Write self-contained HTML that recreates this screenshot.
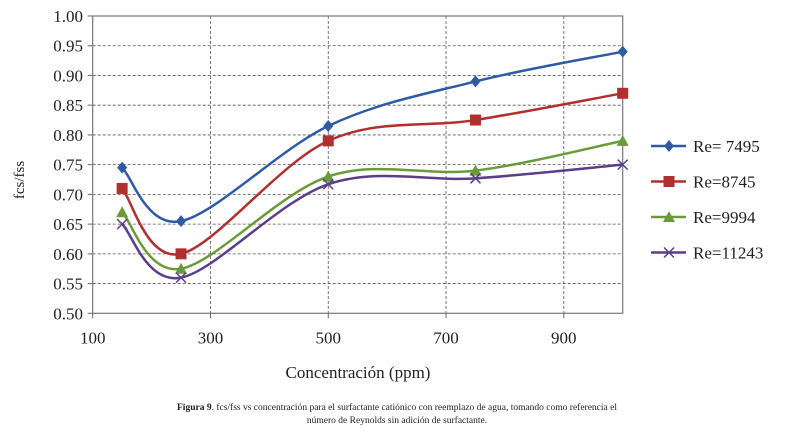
<!DOCTYPE html>
<html><head><meta charset="utf-8"><style>
body{margin:0;background:#fff;width:794px;height:433px;overflow:hidden}
svg text{font-family:"Liberation Serif",serif;fill:#222}
</style></head><body>
<svg width="794" height="433">
<g id="grid"></g>
<g id="axes"></g>
<g id="series"></g>
<g id="legend"></g>
<text x="358" y="378" text-anchor="middle" font-size="17">Concentración  (ppm)</text>
<text transform="translate(24,180) rotate(-90)" text-anchor="middle" font-size="15">fcs/fss</text>
<text x="397" y="410" text-anchor="middle" font-size="9.5"><tspan font-weight="bold">Figura 9</tspan>. fcs/fss vs concentración para el surfactante catiónico con reemplazo de agua, tomando como referencia el</text>
<text x="397" y="423" text-anchor="middle" font-size="9.5">número de Reynolds sin adición de surfactante.</text>
</svg>
<script>
const xValues=[150,250,500,750,1000];
const seriesNames=["Re= 7495","Re=8745","Re=9994","Re=11243"];
const reA=[0.745,0.655,0.815,0.89,0.94];
const reB=[0.71,0.60,0.79,0.825,0.87];
const reC=[0.67,0.575,0.73,0.74,0.79];
const reD=[0.65,0.56,0.717,0.727,0.75];
const xTicks=[100,300,500,700,900];
const yTicks=[0.5,0.55,0.6,0.65,0.7,0.75,0.8,0.85,0.9,0.95,1.0];
const colors=["#2e5aa6","#b22f2f","#6a9a3a","#5b3d8a"];
const markers=["diamond","square","triangle","x"];
const allSeries=[reA,reB,reC,reD];
const L=92.7,R=622.7,T=16,B=313.3;
const xs=v=>L+(v-100)/900*(R-L);
const ys=v=>B-(v-0.5)/0.5*(B-T);
const NS="http://www.w3.org/2000/svg";
function mk(tag,attrs,parent){const e=document.createElementNS(NS,tag);for(const k in attrs)e.setAttribute(k,attrs[k]);parent.appendChild(e);return e;}
const grid=document.getElementById('grid'),axes=document.getElementById('axes'),ser=document.getElementById('series'),leg=document.getElementById('legend');
yTicks.forEach(t=>{
 if(t>0.5&&t<1.0){const l=mk('line',{x1:L,x2:R,y1:ys(t),y2:ys(t),stroke:'#555','stroke-width':0.8,'stroke-dasharray':'3,2'},grid);
 
 }
 const tx=mk('text',{x:83,y:ys(t)+6,'text-anchor':'end','font-size':17},axes);tx.textContent=t.toFixed(2);
 
 
 const tk=mk('line',{x1:L-5,x2:L,y1:ys(t),y2:ys(t),stroke:'#666'},axes);
 
 
});
xTicks.forEach(t=>{
 if(t>100){const l=mk('line',{x1:xs(t),x2:xs(t),y1:T,y2:B,stroke:'#555','stroke-width':0.8,'stroke-dasharray':'3,2'},grid);
 
 }
 const tx=mk('text',{x:xs(t),y:B+30,'text-anchor':'middle','font-size':17},axes);tx.textContent=t;
 
 
 const tk=mk('line',{x1:xs(t),x2:xs(t),y1:B,y2:B+5,stroke:'#666'},axes);
 
 
});
const frame=mk('rect',{x:L,y:T,width:R-L,height:B-T,fill:'none',stroke:'#777','stroke-width':1.2},axes);


function marker(type,x,y,c,parent){
 let e;
 if(type==='diamond')e=mk('polygon',{points:`${x},${y-6} ${x+5},${y} ${x},${y+6} ${x-5},${y}`,fill:c},parent);
 else if(type==='square')e=mk('rect',{x:x-5.5,y:y-5.5,width:11,height:11,fill:c},parent);
 else if(type==='triangle')e=mk('polygon',{points:`${x},${y-6} ${x+6},${y+5} ${x-6},${y+5}`,fill:c},parent);
 else e=mk('path',{d:`M${x-5},${y-5}L${x+5},${y+5}M${x-5},${y+5}L${x+5},${y-5}`,stroke:c,'stroke-width':1.5,fill:'none'},parent);
 return e;
}
allSeries.forEach((vals,si)=>{
 const p=xValues.map((x,i)=>[xs(x),ys(vals[i])]);
 let d=`M${p[0][0]},${p[0][1]}`;
 for(let i=0;i<p.length-1;i++){
  const p0=p[Math.max(i-1,0)],p1=p[i],p2=p[i+1],p3=p[Math.min(i+2,p.length-1)];
  const k=1/6;
  d+=`C${p1[0]+(p2[0]-p0[0])*k},${p1[1]+(p2[1]-p0[1])*k} ${p2[0]-(p3[0]-p1[0])*k},${p2[1]-(p3[1]-p1[1])*k} ${p2[0]},${p2[1]}`;
 }
 const path=mk('path',{d:d,fill:'none',stroke:colors[si],'stroke-width':2.5},ser);
 
 
 p.forEach(q=>{const m=marker(markers[si],q[0],q[1],colors[si],ser);
  
  });
 const ly=146+si*35.5;
 const ll=mk('line',{x1:651,x2:686,y1:ly,y2:ly,stroke:colors[si],'stroke-width':2.5},leg);
 
 
 const lm=marker(markers[si],669,ly,colors[si],leg);
 
 
 const lt=mk('text',{x:693,y:ly+6,'font-size':17},leg);lt.textContent=seriesNames[si];
 
 
});
</script>
</body></html>
